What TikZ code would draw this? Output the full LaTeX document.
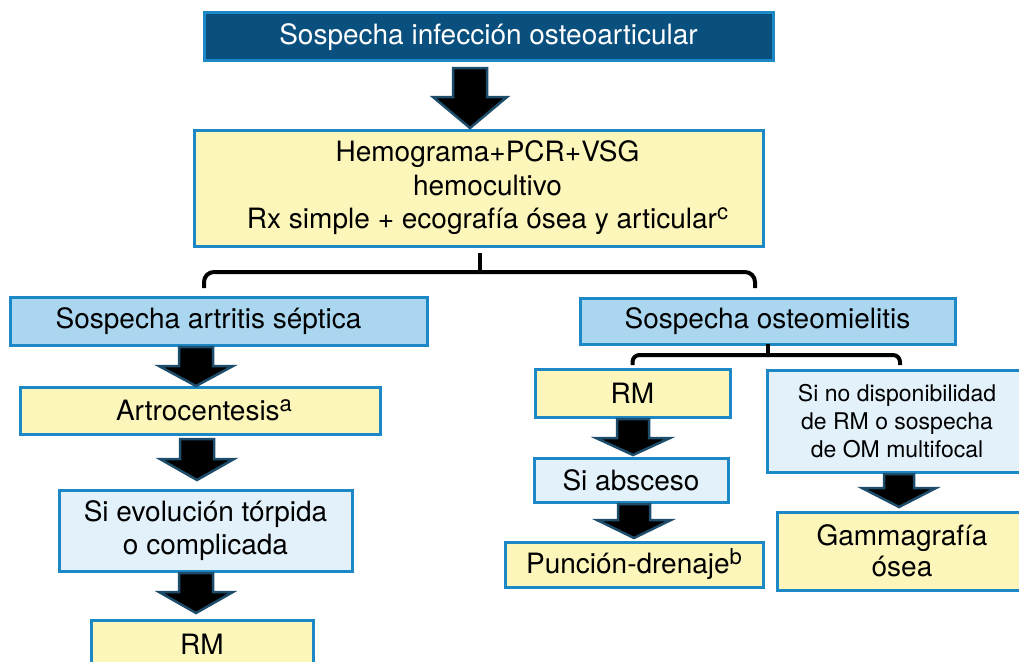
\documentclass[tikz,border=0pt]{standalone}
\usepackage{fontspec}
\setmainfont{TeX Gyre Heros}
\usetikzlibrary{calc}
\definecolor{topfill}{RGB}{10,80,126}
\definecolor{bordblue}{RGB}{28,136,198}
\definecolor{lightblue}{RGB}{171,214,240}
\definecolor{paleyellow}{RGB}{253,246,186}
\definecolor{paleblue}{RGB}{226,241,250}
\definecolor{arrowedge}{RGB}{30,77,107}
\newcommand\supr[1]{\raisebox{9pt}{\fontsize{22}{22}\selectfont #1}}
\tikzset{
  bx/.style={draw=bordblue, line width=3pt, inner sep=0pt, outer sep=0pt, align=center,
    font=\fontsize{28}{33.5}\selectfont, text=black},
  topbox/.style={bx, fill=topfill, text=white},
  blbox/.style={bx, fill=lightblue},
  ylbox/.style={bx, fill=paleyellow},
  pbbox/.style={bx, fill=paleblue},
  blockarr/.style={fill=black, draw=arrowedge, line width=2.5pt, line join=miter},
  brace/.style={draw=black, line width=4pt, rounded corners=10pt},
}
% from, to, centre x, shaft half width, head length, top gap, tip gap
\newcommand\blockarrow[7]{%
  \path[blockarr] let \p1=(#1.south), \p2=(#2.north) in
   ({(#3-#4)*1pt},{\y1-#6pt}) -- ({(#3+#4)*1pt},{\y1-#6pt})
   -- ({(#3+#4)*1pt},{\y2+#7pt+#5pt}) -- ({(#3+37)*1pt},{\y2+#7pt+#5pt})
   -- ({#3*1pt},{\y2+#7pt}) -- ({(#3-37)*1pt},{\y2+#7pt+#5pt})
   -- ({(#3-#4)*1pt},{\y2+#7pt+#5pt}) -- cycle;
}
\begin{document}
\begin{tikzpicture}[x=1pt,y=-1pt]
\useasboundingbox (0,0) rectangle (1019,661);
% boxes
\node[topbox, minimum width=569pt, minimum height=48pt] (top) at (488.5,37) {Sospecha infección osteoarticular};
\node[ylbox, minimum width=569pt, minimum height=116pt] (box2) at (478.5,188)
  {\hspace*{18pt}Hemograma+PCR+VSG\\\hspace*{18pt}hemocultivo\\\hspace*{18pt}Rx simple + ecografía ósea y articular\supr{c}};
\node[blbox, minimum width=417pt, minimum height=48pt] (sas) at (218.5,321) {Sospecha artritis séptica\hspace*{20pt}};
\node[ylbox, minimum width=360pt, minimum height=47pt] (artro) at (200,410.5) {\hspace*{8pt}Artrocentesis\supr{a}};
\node[pbbox, minimum width=293pt, minimum height=81pt] (evol) at (205.5,530.5) {Si evolución tórpida\\o complicada};
\node[ylbox, minimum width=222pt, minimum height=48pt] (rmL) at (202,644) {RM};
\node[blbox, minimum width=375pt, minimum height=46pt] (som) at (767.5,321) {Sospecha osteomielitis};
\node[ylbox, minimum width=195pt, minimum height=48pt] (rmR) at (632.5,393) {RM};
\node[pbbox, minimum width=194pt, minimum height=44pt] (absc) at (631,480) {Si absceso};
\node[ylbox, minimum width=258pt, minimum height=45pt] (punc) at (634,564.5) {Punción-drenaje\supr{b}};
\node[pbbox, minimum width=260pt, minimum height=102pt, font=\fontsize{23}{28}\selectfont] (sinod) at (897,421)
  {Si no disponibilidad\\de RM o sospecha\\de OM multifocal};
\node[ylbox, minimum width=250pt, minimum height=78pt, font=\fontsize{28}{31}\selectfont] (gamma) at (902,551) {Gammagrafía\\ósea};
% block arrows
\blockarrow{top}{box2}{470}{17}{31}{7}{2}
\blockarrow{sas}{artro}{196}{17}{20}{2}{1}
\blockarrow{artro}{evol}{197}{17}{21}{5}{10}
\blockarrow{evol}{rmL}{196}{17}{21}{2}{7}
\blockarrow{rmR}{absc}{633}{16}{17}{2}{3}
\blockarrow{absc}{punc}{634}{16}{18}{2}{4}
\blockarrow{sinod}{gamma}{899}{15}{19}{2}{5}
% brackets
\coordinate (bl) at (204,288);
\coordinate (br) at (755,288);
\draw[brace] (bl) |- ($(box2.south)+(1.5,26)$) -| (br);
\draw[brace, rounded corners=0pt] ($(box2.south)+(1.5,7)$) -- ($(box2.south)+(1.5,26)$);
\draw[brace, rounded corners=7pt] ($(rmR.north)+(0,-4)$) |- ($(som.south)+(0,11)$) -| ($(sinod.north)+(3,-5)$);
\draw[brace, rounded corners=0pt] (som.south) -- ++(0,11);
\end{tikzpicture}
\end{document}
